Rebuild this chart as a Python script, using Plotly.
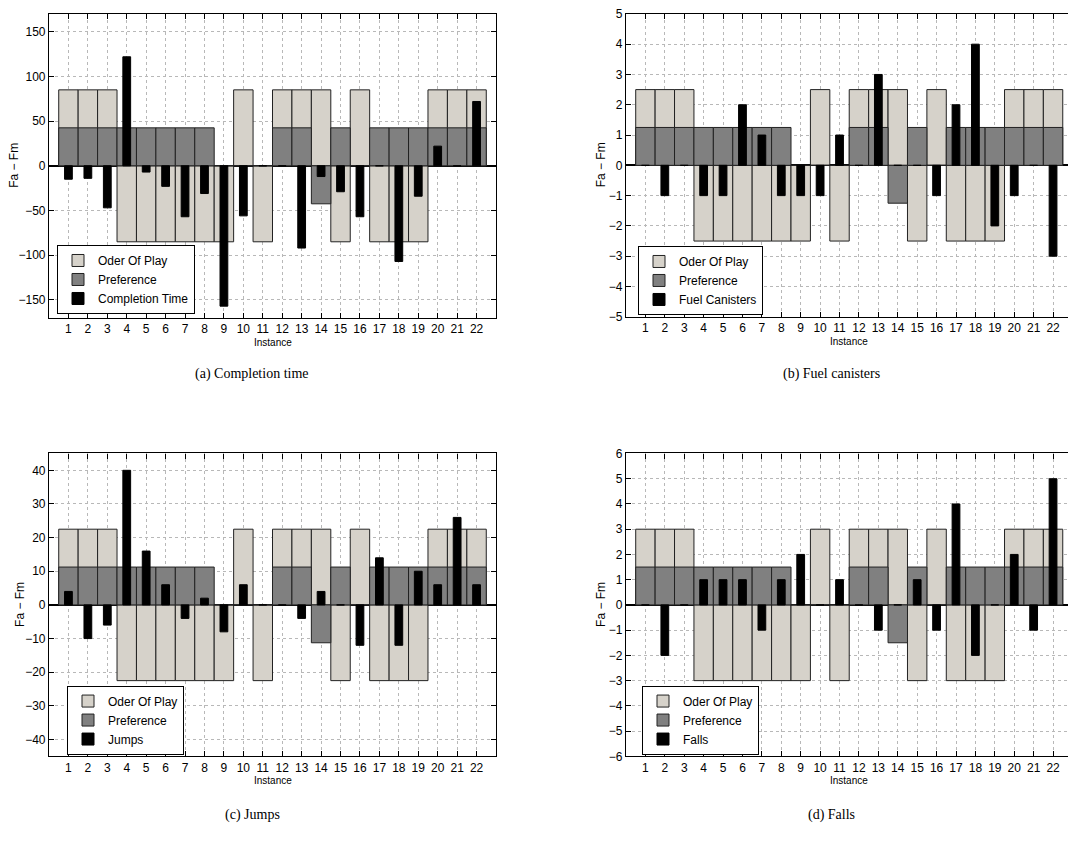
import plotly.graph_objects as go

instances = list(range(1, 23))

# ---- (a) Completion time ----
order_ct = [85, 85, 85, -85, -85, -85, -85, -85, -85, 85, -85, 85, 85, 85, -85, 85, -85, -85, -85, 85, 85, 85]
pref_ct = [42.5, 42.5, 42.5, 42.5, 42.5, 42.5, 42.5, 42.5, 0, 0, 0, 42.5, 42.5, -42.5, 42.5, 0, 42.5, 42.5, 42.5, 42.5, 42.5, 42.5]
completion_time = [-15, -14, -47, 122, -7, -23, -57, -31, -157, -56, 0, 0, -92, -12, -29, -57, 0, -107, -34, 22, 0, 72]

# ---- (b) Fuel canisters ----
order_fc = [2.5, 2.5, 2.5, -2.5, -2.5, -2.5, -2.5, -2.5, -2.5, 2.5, -2.5, 2.5, 2.5, 2.5, -2.5, 2.5, -2.5, -2.5, -2.5, 2.5, 2.5, 2.5]
pref_fc = [1.25, 1.25, 1.25, 1.25, 1.25, 1.25, 1.25, 1.25, 0, 0, 0, 1.25, 1.25, -1.25, 1.25, 0, 1.25, 1.25, 1.25, 1.25, 1.25, 1.25]
fuel_canisters = [0, -1, 0, -1, -1, 2, 1, -1, -1, -1, 1, 0, 3, 0, 0, -1, 2, 4, -2, -1, 0, -3]

# ---- (c) Jumps ----
order_j = [22.5, 22.5, 22.5, -22.5, -22.5, -22.5, -22.5, -22.5, -22.5, 22.5, -22.5, 22.5, 22.5, 22.5, -22.5, 22.5, -22.5, -22.5, -22.5, 22.5, 22.5, 22.5]
pref_j = [11.25, 11.25, 11.25, 11.25, 11.25, 11.25, 11.25, 11.25, 0, 0, 0, 11.25, 11.25, -11.25, 11.25, 0, 11.25, 11.25, 11.25, 11.25, 11.25, 11.25]
jumps = [4, -10, -6, 40, 16, 6, -4, 2, -8, 6, 0, 0, -4, 4, 0, -12, 14, -12, 10, 6, 26, 6]

# ---- (d) Falls ----
order_f = [3, 3, 3, -3, -3, -3, -3, -3, -3, 3, -3, 3, 3, 3, -3, 3, -3, -3, -3, 3, 3, 3]
pref_f = [1.5, 1.5, 1.5, 1.5, 1.5, 1.5, 1.5, 1.5, 0, 0, 0, 1.5, 1.5, -1.5, 1.5, 0, 1.5, 1.5, 1.5, 1.5, 1.5, 1.5]
falls = [0, -2, 0, 1, 1, 1, -1, 1, 2, 0, 1, 0, -1, 0, 1, -1, 4, -2, 0, 2, -1, 5]

captions = ["(a) Completion time", "(b) Fuel canisters", "(c) Jumps", "(d) Falls"]
metric_names = ["Completion Time", "Fuel Canisters", "Jumps", "Falls"]

W, H = 1068, 844
LIGHT = "#d6d2ca"
DARK = "#808080"
TICKFONT = dict(family="Liberation Sans Narrow, Liberation Sans, Arial, sans-serif", size=12, color="black")
LABELFONT = dict(family="Liberation Sans, Arial, sans-serif", size=10, color="black")

def px_x(p):
    return p / W

def px_y(p):
    return 1 - p / H

panels = [
    dict(l=49, r=496, t=7, b=316, xr=[0, 23], yr=[-170, 170], yt=list(range(-150, 151, 50)),
         leg=(57, 242), data=(order_ct, pref_ct, completion_time), ylx=14, mirror_y="ticks"),
    dict(l=626, r=1068, t=7, b=315, xr=[0, 22.77], yr=[-5, 5], yt=list(range(-5, 6)),
         leg=(638, 243), data=(order_fc, pref_fc, fuel_canisters), ylx=601, mirror_y=False),
    dict(l=49, r=496, t=454, b=762, xr=[0, 23], yr=[-45, 45], yt=list(range(-40, 41, 10)),
         leg=(67, 690), data=(order_j, pref_j, jumps), ylx=20, mirror_y="ticks"),
    dict(l=626, r=1068, t=454, b=762, xr=[0, 22.77], yr=[-6, 6], yt=list(range(-6, 7)),
         leg=(642, 690), data=(order_f, pref_f, falls), ylx=601, mirror_y=False),
]

fig = go.Figure()
layout = dict(width=W, height=H, autosize=False, margin=dict(l=0, r=0, t=0, b=0),
              paper_bgcolor="white", plot_bgcolor="white", barmode="overlay",
              showlegend=True, annotations=[])

for i, p in enumerate(panels):
    k = "" if i == 0 else str(i + 1)
    xa, ya = "x" + k, "y" + k
    leg = "legend" + k
    order, pref, metric = p["data"]
    fig.add_trace(go.Bar(x=instances, y=order, width=1.0, name="Oder Of Play",
                         marker=dict(color=LIGHT, line=dict(color="#222222", width=1)),
                         xaxis=xa, yaxis=ya, legend=leg))
    fig.add_trace(go.Bar(x=instances, y=pref, width=1.0, name="Preference",
                         marker=dict(color=DARK, line=dict(color="#222222", width=1)),
                         xaxis=xa, yaxis=ya, legend=leg))
    fig.add_trace(go.Bar(x=instances, y=metric, width=0.4, name=metric_names[i],
                         marker=dict(color="black", line=dict(color="black", width=1)),
                         xaxis=xa, yaxis=ya, legend=leg))

    layout["xaxis" + k] = dict(domain=[px_x(p["l"]), px_x(p["r"])], range=p["xr"], anchor=ya,
                               tickmode="array", tickvals=instances, ticktext=[str(v) for v in instances],
                               ticks="inside", ticklen=5, tickcolor="black", showline=True,
                               linecolor="black", linewidth=1.2, mirror="ticks",
                               showgrid=True, gridcolor="#b8b8b8", griddash="dot", gridwidth=1,
                               zeroline=False, tickfont=TICKFONT, fixedrange=True)
    layout["yaxis" + k] = dict(domain=[px_y(p["b"]), px_y(p["t"])], range=p["yr"], anchor=xa,
                               tickmode="array", tickvals=p["yt"],
                               ticks="inside", ticklen=5, tickcolor="black", showline=True,
                               linecolor="black", linewidth=1.2, mirror=p["mirror_y"],
                               showgrid=True, gridcolor="#b8b8b8", griddash="dot", gridwidth=1,
                               zeroline=True, zerolinecolor="black", zerolinewidth=1.5,
                               tickfont=TICKFONT, fixedrange=True)
    layout[leg] = dict(x=px_x(p["leg"][0]), y=px_y(p["leg"][1]), xanchor="left", yanchor="top",
                       bgcolor="white", bordercolor="black", borderwidth=1,
                       font=dict(family="Liberation Sans Narrow, Liberation Sans, Arial, sans-serif",
                                 size=12, color="black"),
                       itemwidth=30, tracegroupgap=0, traceorder="normal")

    cx = (p["l"] + (p["r"] if p["r"] < W else 1072)) / 2
    layout["annotations"].append(dict(text="Instance", x=px_x(cx), y=px_y(p["b"] + 25),
                                      xref="paper", yref="paper", showarrow=False,
                                      xanchor="center", yanchor="middle", font=LABELFONT))
    layout["annotations"].append(dict(text="Fa − Fm", x=px_x(p["ylx"]), y=px_y((p["t"] + p["b"]) / 2),
                                      xref="paper", yref="paper", showarrow=False, textangle=-90,
                                      xanchor="center", yanchor="middle",
                                      font=dict(family="Liberation Sans, Arial, sans-serif", size=12,
                                                color="black")))
    cap_x = 252 if p["l"] < 500 else 831
    cap_y = 373 if p["t"] < 100 else 822
    layout["annotations"].append(dict(text=captions[i], x=px_x(cap_x), y=px_y(cap_y),
                                      xref="paper", yref="paper", showarrow=False,
                                      xanchor="center", yanchor="middle",
                                      font=dict(family="Liberation Serif, DejaVu Serif, serif", size=14,
                                                color="black")))

fig.update_layout(**layout)
fig.write_html("out.html")
